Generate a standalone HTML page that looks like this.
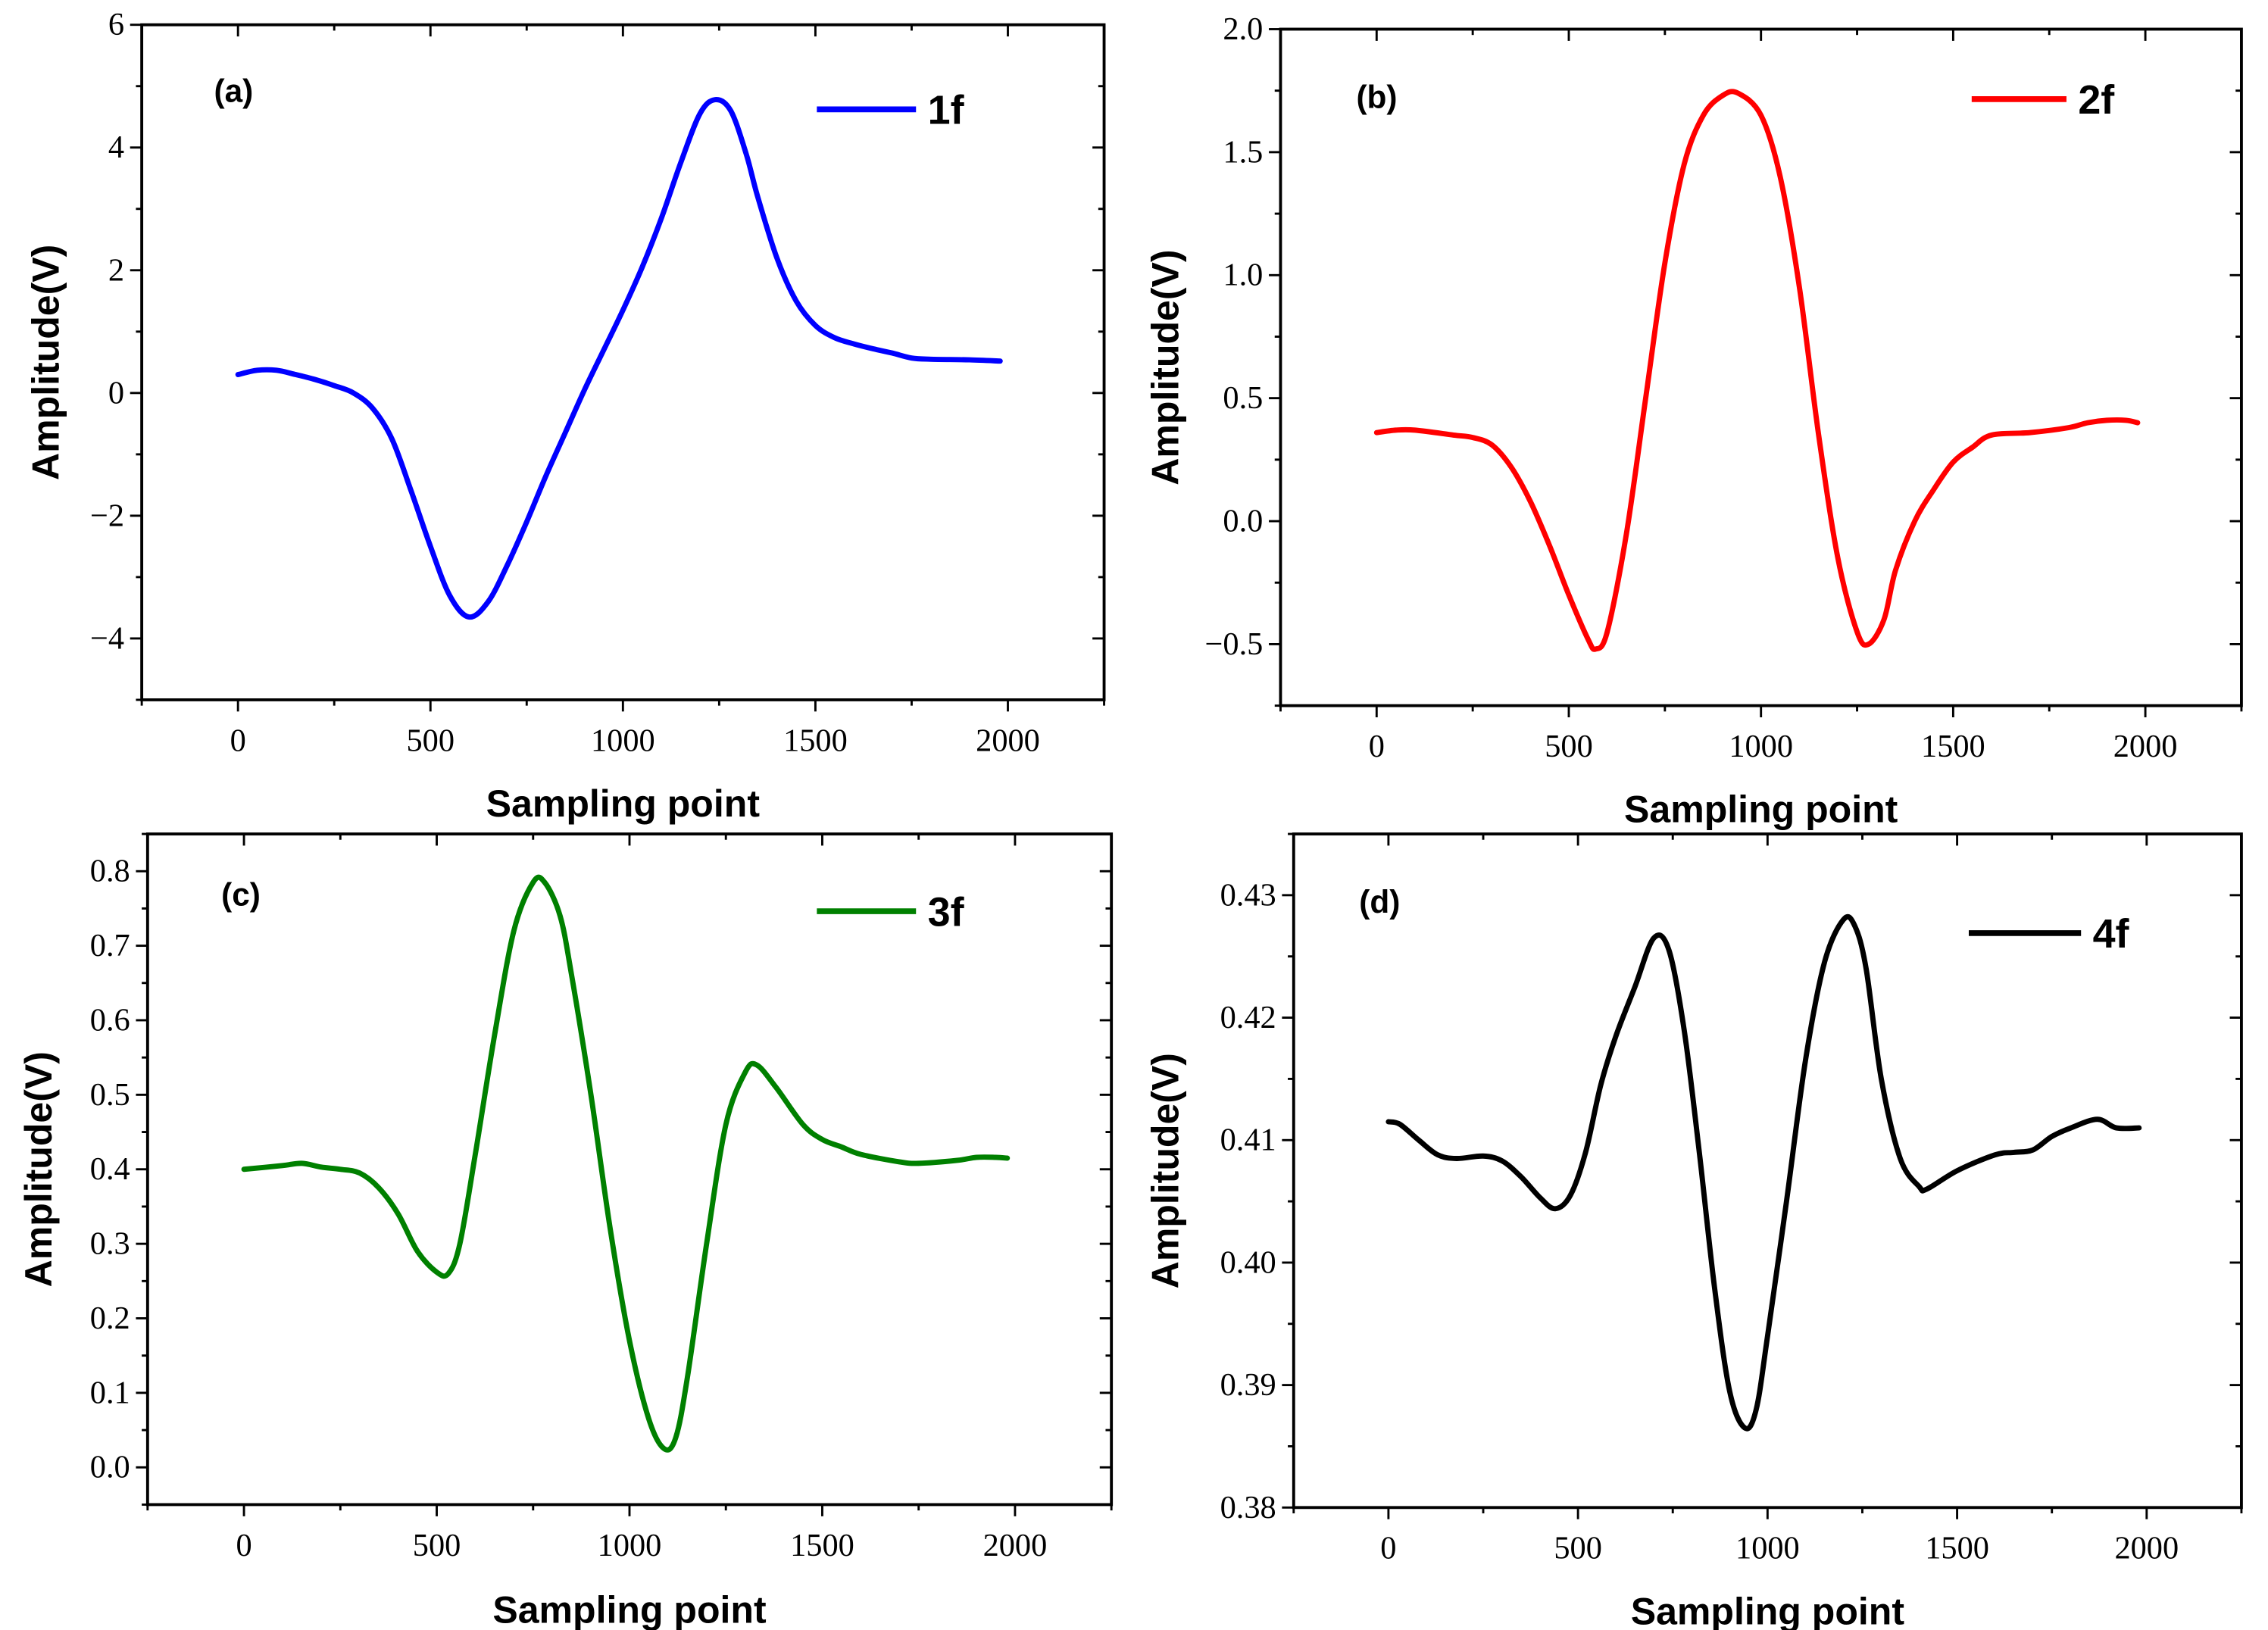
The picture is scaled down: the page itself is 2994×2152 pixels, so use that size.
<!DOCTYPE html>
<html><head><meta charset="utf-8"><style>
html,body{margin:0;padding:0;background:#fff;}
svg{display:block;}
.tick{font-family:"Liberation Serif",serif;font-size:22px;fill:#000;}
.title{font-family:"Liberation Sans",sans-serif;font-weight:bold;font-size:26px;fill:#000;}
.plab{font-family:"Liberation Sans",sans-serif;font-weight:bold;font-size:22px;fill:#000;}
.leg{font-family:"Liberation Sans",sans-serif;font-weight:bold;font-size:28px;fill:#000;}
</style></head><body>
<svg id="fig" width="2994" height="2152" viewBox="0 0 1555 1118" xmlns="http://www.w3.org/2000/svg"></svg>
<script>
const xA=[0,50,100,150,200,250,300,350,400,450,500,550,600,650,700,750,800,850,900,950,1000,1050,1100,1150,1200,1240,1280,1320,1350,1400,1450,1500,1550,1600,1650,1700,1750,1800,1900,1980];
const yA=[0.3,0.37,0.37,0.3,0.22,0.12,0.0,-0.25,-0.75,-1.6,-2.5,-3.3,-3.65,-3.4,-2.8,-2.1,-1.35,-0.65,0.05,0.7,1.35,2.05,2.85,3.75,4.55,4.78,4.6,3.9,3.2,2.2,1.5,1.1,0.9,0.8,0.72,0.65,0.57,0.55,0.54,0.52];
const xB=[0,50,100,200,250,300,350,400,450,500,550,570,600,650,700,750,800,850,900,940,1000,1050,1100,1150,1200,1250,1280,1320,1350,1400,1450,1500,1550,1600,1700,1800,1850,1900,1950,1980];
const yB=[0.36,0.37,0.37,0.35,0.34,0.31,0.22,0.08,-0.1,-0.3,-0.48,-0.52,-0.45,-0.05,0.5,1.05,1.45,1.65,1.73,1.74,1.65,1.4,0.95,0.35,-0.15,-0.45,-0.5,-0.4,-0.2,0.0,0.13,0.24,0.3,0.35,0.36,0.38,0.4,0.41,0.41,0.4];
const xC=[0,100,150,200,250,300,350,400,450,500,530,560,600,650,700,750,780,820,850,900,950,1000,1050,1090,1120,1150,1200,1250,1300,1330,1380,1450,1500,1550,1600,1700,1750,1850,1900,1950,1980];
const yC=[0.40,0.405,0.408,0.403,0.40,0.395,0.375,0.34,0.29,0.262,0.26,0.30,0.42,0.58,0.72,0.785,0.785,0.74,0.66,0.5,0.32,0.17,0.065,0.025,0.04,0.12,0.3,0.46,0.53,0.54,0.51,0.46,0.44,0.43,0.42,0.41,0.408,0.412,0.416,0.416,0.415];
const xD=[0,30,80,130,180,250,300,350,400,440,480,520,560,600,650,700,740,780,820,860,900,940,970,1000,1050,1100,1150,1200,1230,1260,1300,1350,1400,1420,1500,1600,1650,1700,1750,1800,1870,1920,1980];
const yD=[0.4115,0.4113,0.410,0.4088,0.4085,0.4087,0.4083,0.407,0.4053,0.4044,0.4055,0.409,0.4145,0.4185,0.4225,0.4265,0.4255,0.419,0.409,0.398,0.3895,0.3865,0.388,0.394,0.405,0.4165,0.4245,0.428,0.4275,0.424,0.415,0.4085,0.4062,0.406,0.4075,0.4088,0.409,0.4092,0.4103,0.411,0.4117,0.411,0.411];

const NS="http://www.w3.org/2000/svg";
const svg=document.getElementById('fig');
function mk(tag,attrs,parent){const e=document.createElementNS(NS,tag);for(const k in attrs)e.setAttribute(k,attrs[k]);(parent||svg).appendChild(e);return e;}

function panel(cfg){
  const g=mk('g',{});
  
  
  const {L,R,T,B,xmin,xmax,ymin,ymax}=cfg;
  const sx=v=>L+(v-xmin)/(xmax-xmin)*(R-L);
  const sy=v=>B-(v-ymin)/(ymax-ymin)*(B-T);
  const frame=mk('rect',{x:L,y:T,width:R-L,height:B-T,fill:'none',stroke:'#000','stroke-width':2},g);
  
  
  for(let v=-250;v<=2250;v+=250){
    const major=(v%500===0);const len=major?8:4;const X=sx(v);
    mk('line',{x1:X,y1:B,x2:X,y2:B+len,stroke:'#000','stroke-width':1.5},g);
    mk('line',{x1:X,y1:T,x2:X,y2:T+len,stroke:'#000','stroke-width':1.5},g);
    if(major&&v>=0&&v<=2000){const t=mk('text',{x:X,y:B+35,'text-anchor':'middle',class:'tick'},g);t.textContent=v;
      
      }
  }
  const n=Math.round((ymax-ymin)/cfg.minor);
  for(let i=0;i<=n;i++){
    const v=ymin+i*cfg.minor;const Y=sy(v);
    const isMajor=cfg.majors.some(m=>Math.abs(m-v)<1e-9);const len=isMajor?8:4;
    mk('line',{x1:L,y1:Y,x2:L-len,y2:Y,stroke:'#000','stroke-width':1.5},g);
    mk('line',{x1:R,y1:Y,x2:R-len,y2:Y,stroke:'#000','stroke-width':1.5},g);
  }
  cfg.majors.forEach((m,i)=>{const t=mk('text',{x:L-12,y:sy(m)+7,'text-anchor':'end',class:'tick'},g);t.textContent=cfg.labels[i];
    
    });
  const pts=cfg.xs.map((x,i)=>[sx(x),sy(cfg.ys[i])]);
  let d='M'+pts[0][0]+','+pts[0][1];
  for(let i=0;i<pts.length-1;i++){
    const p0=pts[i-1]||pts[i],p1=pts[i],p2=pts[i+1],p3=pts[i+2]||p2;
    const c1=[p1[0]+(p2[0]-p0[0])/6,p1[1]+(p2[1]-p0[1])/6];
    const c2=[p2[0]-(p3[0]-p1[0])/6,p2[1]-(p3[1]-p1[1])/6];
    d+=' C'+c1[0]+','+c1[1]+' '+c2[0]+','+c2[1]+' '+p2[0]+','+p2[1];
  }
  const path=mk('path',{d:d,fill:'none',stroke:cfg.color,'stroke-width':3.6,'stroke-linejoin':'round','stroke-linecap':'round'},g);
  
  
  const ll=mk('line',{x1:cfg.leg[0],y1:cfg.leg[2],x2:cfg.leg[1],y2:cfg.leg[2],stroke:cfg.color,'stroke-width':4},g);
  
  
  const lt=mk('text',{x:cfg.leg[1]+8,y:cfg.leg[2]+10,class:'leg'},g);lt.textContent=cfg.name;
  
  
  const pl=mk('text',{x:cfg.plab[0],y:cfg.plab[1],'text-anchor':'middle',class:'plab'},g);pl.textContent='('+cfg.id+')';
  
  
  const xt=mk('text',{x:(L+R)/2,y:cfg.xt,'text-anchor':'middle',class:'title'},g);xt.textContent='Sampling point';
  
  
  const yc=(T+B)/2;
  const yt=mk('text',{x:cfg.yt,y:yc,'text-anchor':'middle',class:'title',transform:'rotate(-90 '+cfg.yt+' '+yc+')'},g);yt.textContent='Amplitude(V)';
  
  
}

panel({id:'a',name:'1f',color:'#0000ff',L:97,R:757,T:17,B:480,xmin:-250,xmax:2250,ymin:-5,ymax:6,minor:1,majors:[-4,-2,0,2,4,6],labels:['\u22124','\u22122','0','2','4','6'],xs:xA,ys:yA,leg:[560,628,75],plab:[160,70],xt:560,yt:40});
panel({id:'b',name:'2f',color:'#ff0000',L:878,R:1537,T:20,B:484,xmin:-250,xmax:2250,ymin:-0.75,ymax:2.0,minor:0.25,majors:[-0.5,0,0.5,1,1.5,2],labels:['\u22120.5','0.0','0.5','1.0','1.5','2.0'],xs:xB,ys:yB,leg:[1352,1417,68],plab:[944,74],xt:564,yt:808});
panel({id:'c',name:'3f',color:'#008000',L:101,R:762,T:572,B:1032,xmin:-250,xmax:2250,ymin:-0.05,ymax:0.85,minor:0.05,majors:[0,0.1,0.2,0.3,0.4,0.5,0.6,0.7,0.8],labels:['0.0','0.1','0.2','0.3','0.4','0.5','0.6','0.7','0.8'],xs:xC,ys:yC,leg:[560,628,625],plab:[165,621],xt:1113,yt:35});
panel({id:'d',name:'4f',color:'#000000',L:887,R:1537,T:572,B:1034,xmin:-250,xmax:2250,ymin:0.38,ymax:0.435,minor:0.005,majors:[0.38,0.39,0.40,0.41,0.42,0.43],labels:['0.38','0.39','0.40','0.41','0.42','0.43'],xs:xD,ys:yD,leg:[1350,1427,640],plab:[946,626],xt:1114,yt:808});
</script>
</body></html>
